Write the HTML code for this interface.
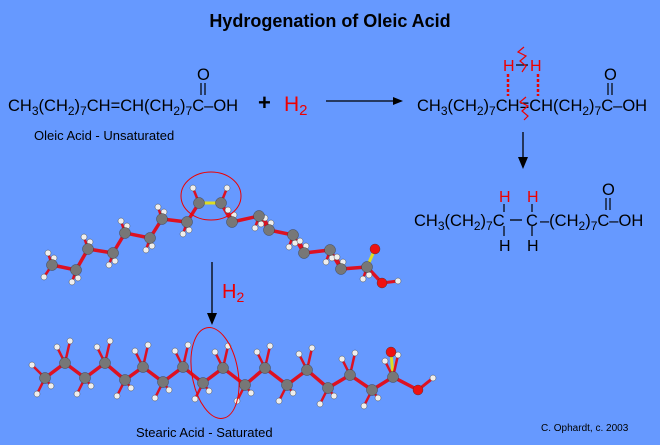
<!DOCTYPE html>
<html><head><meta charset="utf-8"><style>
html,body{margin:0;padding:0;background:#6699ff;}
svg{display:block;font-family:"Liberation Sans",sans-serif;}
</style></head><body>
<svg id="s" width="660" height="445" viewBox="0 0 660 445" xmlns="http://www.w3.org/2000/svg">
<rect width="660" height="445" fill="#6699ff"/>
<text x="330" y="27" text-anchor="middle" font-size="18" font-weight="bold" fill="#000">Hydrogenation of Oleic Acid</text>

<g font-size="16.5" fill="#000">
<text x="8" y="111">CH<tspan font-size="12" dy="4">3</tspan><tspan dy="-4">(CH</tspan><tspan font-size="12" dy="4">2</tspan><tspan dy="-4">)</tspan><tspan font-size="12" dy="4">7</tspan><tspan dy="-4">CH=CH(CH</tspan><tspan font-size="12" dy="4">2</tspan><tspan dy="-4">)</tspan><tspan font-size="12" dy="4">7</tspan><tspan dy="-4">C–OH</tspan></text>
<text x="197" y="80">O</text>
<line x1="201" y1="83" x2="201" y2="95" stroke="#000" stroke-width="1.2"/><line x1="205" y1="83" x2="205" y2="95" stroke="#000" stroke-width="1.2"/>
</g>
<text x="34" y="140" font-size="13" fill="#000">Oleic Acid - Unsaturated</text>
<text x="258" y="110" font-size="22" font-weight="bold">+</text>
<text x="284" y="111" font-size="21" fill="#e00">H<tspan font-size="15" dy="4">2</tspan></text>
<line x1="326" y1="101" x2="395" y2="101" stroke="#000" stroke-width="1.3"/>
<polygon points="403,101 393,97 393,105" fill="#000"/>

<g font-size="16.5" fill="#000">
<text x="417" y="111">CH<tspan font-size="12" dy="4">3</tspan><tspan dy="-4">(CH</tspan><tspan font-size="12" dy="4">2</tspan><tspan dy="-4">)</tspan><tspan font-size="12" dy="4">7</tspan><tspan dy="-4">CH=CH(CH</tspan><tspan font-size="12" dy="4">2</tspan><tspan dy="-4">)</tspan><tspan font-size="12" dy="4">7</tspan><tspan dy="-4">C–OH</tspan></text>
<text x="604" y="80">O</text>
<line x1="608" y1="83" x2="608" y2="95" stroke="#000" stroke-width="1.2"/><line x1="612" y1="83" x2="612" y2="95" stroke="#000" stroke-width="1.2"/>
</g>
<g fill="#e00" font-size="16"><text x="503" y="71">H</text><text x="530" y="71">H</text></g>
<line x1="516" y1="65" x2="528" y2="65" stroke="#000" stroke-width="1.2"/>
<line x1="508" y1="74" x2="508" y2="96" stroke="#e00" stroke-width="2.5" stroke-dasharray="3,2"/>
<line x1="538" y1="74" x2="538" y2="96" stroke="#e00" stroke-width="2.5" stroke-dasharray="3,2"/>
<path d="M524,47 L518,52 L526,56 L520,61 L526,66 L522,72" stroke="#e00" fill="none" stroke-width="1.2"/>
<path d="M526,97 L520,102 L528,106 L522,111 L528,116 L524,120" stroke="#e00" fill="none" stroke-width="1.2"/>
<line x1="523" y1="132" x2="523" y2="160" stroke="#000" stroke-width="1.3"/>
<polygon points="523,169 518,157 528,157" fill="#000"/>

<g font-size="16.5" fill="#000">
<text x="414" y="226">CH<tspan font-size="12" dy="4">3</tspan><tspan dy="-4">(CH</tspan><tspan font-size="12" dy="4">2</tspan><tspan dy="-4">)</tspan><tspan font-size="12" dy="4">7</tspan><tspan dy="-4">C </tspan></text>
<text x="526" y="226">C</text>
<text x="540" y="226">–(CH<tspan font-size="12" dy="4">2</tspan><tspan dy="-4">)</tspan><tspan font-size="12" dy="4">7</tspan><tspan dy="-4">C–OH</tspan></text>
<line x1="510" y1="220" x2="522" y2="220" stroke="#000" stroke-width="1.3"/>
<text x="499" y="251" font-size="16">H</text><text x="527" y="251" font-size="16">H</text>
<line x1="504" y1="226" x2="504" y2="236" stroke="#000" stroke-width="1.2"/><line x1="532" y1="226" x2="532" y2="236" stroke="#000" stroke-width="1.2"/>
<text x="602" y="195">O</text>
<line x1="606" y1="198" x2="606" y2="210" stroke="#000" stroke-width="1.2"/><line x1="610" y1="198" x2="610" y2="210" stroke="#000" stroke-width="1.2"/>
</g>
<g fill="#e00" font-size="16"><text x="499" y="202">H</text><text x="527" y="202">H</text></g>
<line x1="504" y1="204" x2="504" y2="212" stroke="#000" stroke-width="1.2"/><line x1="532" y1="204" x2="532" y2="212" stroke="#000" stroke-width="1.2"/>

<line x1="212" y1="262" x2="212" y2="316" stroke="#000" stroke-width="1.3"/>
<polygon points="212,325 207,313 217,313" fill="#000"/>
<text x="222" y="298" font-size="20" fill="#e00">H<tspan font-size="14" dy="4">2</tspan></text>

<text x="136" y="437" font-size="13" fill="#000">Stearic Acid - Saturated</text>
<text x="541" y="431" font-size="10" fill="#000">C. Ophardt, c. 2003</text>
<g id="mol"></g>
<ellipse cx="211" cy="196" rx="30" ry="24" fill="none" stroke="#e00" stroke-width="1"/>
<ellipse cx="215" cy="373" rx="23" ry="46" fill="none" stroke="#e00" stroke-width="1" transform="rotate(-10 215 373)"/>
</svg>
<script>
var g=document.getElementById('mol'),NS="http://www.w3.org/2000/svg";
function el(t,a){var e=document.createElementNS(NS,t);for(var k in a)e.setAttribute(k,a[k]);g.appendChild(e);return e;}
function line(a,b,c,w){el('line',{x1:a[0],y1:a[1],x2:b[0],y2:b[1],stroke:c,'stroke-width':w});}
function ball(p,r,c){el('circle',{cx:p[0],cy:p[1],r:r,fill:c,stroke:'#333','stroke-width':0.4});}
function mol(C,O1,O2,H,hs,dbl){
  for(var i=1;i<C.length;i++){ if(dbl&&i==dbl) line(C[i-1],C[i],'#dddd22',3); else line(C[i-1],C[i],'#dd1122',3.5);}
  line(C[C.length-1],O1,'#dddd22',3);line(C[C.length-1],O2,'#dd1122',3.5);line(O2,H,'#dd1122',3);
  hs.forEach(function(h){line(C[h[0]],[h[1],h[2]],'#dd1122',2.5);});
  hs.forEach(function(h){ball([h[1],h[2]],3,'#eeeeee');});
  C.forEach(function(c){ball(c,5.5,'#777');});
  ball(O1,5,'#ee1111');ball(O2,5,'#ee1111');ball(H,3,'#eee');
}
var A=[[52,265],[76,270],[88,249],[113,253],[125,233],[150,238],[162,219],[187,222],[199,203],[221,203],[232,222],[259,216],[269,230],[293,235],[304,253],[330,250],[341,269],[367,267]];
var ha=[];A.forEach(function(c,i){if(i==8||i==9){ha.push([i,c[0]+(i==8?-6:6),c[1]-15]);return;}var up=(i%2==0);ha.push([i,c[0]-4,c[1]+(up?-12:12)]);ha.push([i,c[0]+2,c[1]+(up?-7:8)]);});
ha.push([0,44,277]);
mol(A,[375,249],[382,283],[398,281],ha,9);
var xs=[45,65,85,105,125,143,163,183,203,223,245,265,287,307,328,350,372,393],ys=[378,363,378,363,380,367,382,367,383,368,385,368,385,370,388,375,390,377];
var B=xs.map(function(x,i){return [x,ys[i]];});var hb=[];
B.forEach(function(c,i){var up=(i%2==1);hb.push([i,c[0]-8,c[1]+(up?-16:16)]);hb.push([i,c[0]+(up?5:6),c[1]+(up?-22:8)]);});
hb.push([0,32,365]);
mol(B,[391,352],[418,390],[433,378],hb,0);
</script>
</body></html>
